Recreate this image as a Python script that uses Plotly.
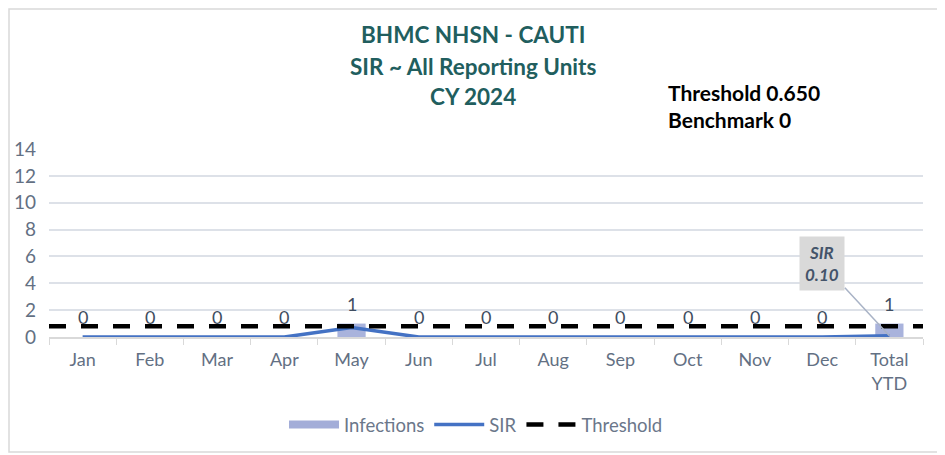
import plotly.graph_objects as go

categories = ["Jan", "Feb", "Mar", "Apr", "May", "Jun", "Jul", "Aug", "Sep", "Oct", "Nov", "Dec", "Total<br>YTD"]
infections = [0, 0, 0, 0, 1, 0, 0, 0, 0, 0, 0, 0, 1]
sir = [0, 0, 0, 0, 0.7, 0, 0, 0, 0, 0, 0, 0, 0.10]
threshold_level = 0.8
threshold_text = "0.650"
benchmark_text = "0"
sir_ytd_text = "0.10"
title_lines = ["BHMC NHSN - CAUTI", "SIR ~ All Reporting Units", "CY 2024"]
y_ticks = [0, 2, 4, 6, 8, 10, 12, 14]

FONT = "Lato"
OFF = 8  # page body margin offset
W, H = 945 - OFF, 455 - OFF
L, T = 49 - OFF, 149 - OFF
R, B = W - (923 - OFF), H - (337 - OFF)
pw, ph = W - L - R, H - T - B

def px(x):
    return (x - OFF - L) / pw

def py(y):
    return (H - B - (y - OFF)) / ph

fig = go.Figure()
fig.add_trace(go.Bar(
    x=categories, y=infections, name="Infections", showlegend=False,
    marker=dict(color="#a9b3dc", line=dict(width=0)),
    width=0.42,
))
fig.add_trace(go.Scatter(
    x=[None], y=[None], name="Infections", mode="lines",
    line=dict(color="#a3add8", width=8),
))
fig.add_trace(go.Scatter(
    x=categories, y=sir, name="SIR", mode="lines",
    line=dict(color="#4472c4", width=3.5),
))
fig.add_trace(go.Scatter(
    x=[-0.5, len(categories) - 0.5], y=[threshold_level, threshold_level],
    xaxis="x2", name="Threshold", mode="lines",
    line=dict(color="black", width=4.5, dash="17px,15px"),
))

for c, v in zip(categories, infections):
    fig.add_annotation(x=c, y=v, xref="x", yref="y", text=str(v), showarrow=False,
                       yanchor="middle", yshift=20,
                       font=dict(family=FONT, size=18, color="#3f4d60"))

fig.update_layout(
    width=W, height=H,
    margin=dict(l=L, r=R, t=T, b=B, autoexpand=False),
    paper_bgcolor="white", plot_bgcolor="white",
    font=dict(family=FONT, size=17, color="#637083"),
    showlegend=True,
    legend=dict(orientation="h", xref="container", yref="container",
                x=(476 - OFF) / W, xanchor="center", y=(H - (425 - OFF)) / H, yanchor="middle",
                font=dict(family=FONT, size=18.5, color="#6b778a"), traceorder="normal",
                itemwidth=50),
    xaxis=dict(type="category", range=[-0.5, len(categories) - 0.5], automargin=False,
               showgrid=False, showline=True, linecolor="#d9d9d9", linewidth=1.5,
               ticks="outside", tickson="boundaries", ticklen=6, tickcolor="#d9d9d9",
               ticklabelstandoff=6,
               tickfont=dict(family=FONT, size=18, color="#637083"), fixedrange=True),
    xaxis2=dict(overlaying="x", range=[-0.5, len(categories) - 0.5], visible=False),
    yaxis=dict(range=[0, 14], tickvals=y_ticks, showgrid=True, gridcolor="#dde1e8",
               gridwidth=1.5, zeroline=False, showline=False, automargin=False,
               tickfont=dict(family=FONT, size=19, color="#637083"), ticklabelstandoff=12),
)

for line, yy in zip(title_lines, [35, 66, 97]):
    fig.add_annotation(
        xref="paper", yref="paper", x=px(473), y=py(yy), xanchor="center", yanchor="middle",
        text=f"<b>{line}</b>", showarrow=False,
        font=dict(family=FONT, size=22.5, color="#215e5e"),
    )
fig.add_annotation(
    xref="paper", yref="paper", x=px(666), y=py(106), xanchor="left", yanchor="middle",
    text=f"<b>Threshold {threshold_text}<br>Benchmark {benchmark_text}</b>",
    showarrow=False, font=dict(family=FONT, size=21, color="black"), align="left",
)
fig.add_annotation(
    x=len(categories) - 1, y=sir[-1], xref="x", yref="y",
    text=f"<b><i>SIR<br>{sir_ytd_text}</i></b>",
    showarrow=True, arrowhead=0, arrowwidth=1.5, arrowcolor="#a9b3c6",
    ax=-67, ay=-72, bgcolor="#d9d9d9", borderpad=5,
    font=dict(family=FONT, size=17, color="#44546a"), align="center",
)
fig.add_shape(type="rect", xref="paper", yref="paper",
              x0=px(9), x1=px(942), y0=py(452), y1=py(9),
              line=dict(color="#d9d9d9", width=1.5), fillcolor="rgba(0,0,0,0)", layer="below")

fig.write_html("out.html")
